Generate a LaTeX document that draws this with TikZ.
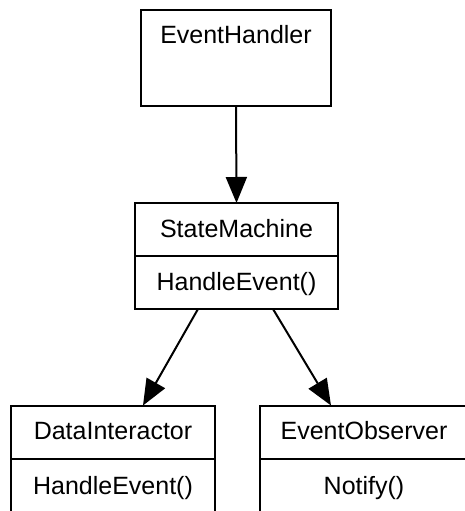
\documentclass[tikz,border=0pt]{standalone}
\usepackage{fontspec}
\setmainfont{Liberation Sans}
\usetikzlibrary{arrows.meta}

\tikzset{
  box/.style={draw=black, line width=2pt, fill=white, inner sep=0pt, outer sep=0pt},
  part/.style={box, text height=19pt, text depth=4pt, minimum height=53pt,
    font=\fontsize{25}{30}\selectfont},
  lower/.style={part, anchor=north, minimum height=56pt},
  title/.style={anchor=base, font=\fontsize{25}{30}\selectfont},
  link/.style={line width=2pt, -{Triangle[length=26pt, width=21pt]}}
}

\begin{document}
\begin{tikzpicture}[x=1pt, y=-1pt]
  \fill[white] (0,0) rectangle (465,511);
  \useasboundingbox (0,0) rectangle (465,511);
  \clip (0,0) rectangle (465,511);

  % handler class, name at the top of a tall box
  \node[box, minimum width=190pt, minimum height=96pt,
        label={[title, yshift=-34pt]north:EventHandler}] (eh) at (236,58) {};

  % state machine class: name and operation compartments
  \node[part, minimum width=203pt] (sm) at (236.5,229.5) {StateMachine};
  \node[part, anchor=north, minimum width=203pt] (smm) at (sm.south) {HandleEvent()};

  % data interactor class
  \node[part, minimum width=204pt] (di) at (113,432) {DataInteractor};
  \node[lower, minimum width=204pt] (dim) at (di.south) {HandleEvent()};

  % event observer class
  \node[part, minimum width=208pt] (eo) at (364,432) {EventObserver};
  \node[lower, minimum width=208pt] (eom) at (eo.south) {Notify()};

  % associations
  \draw[link] (eh.south) -- (sm.north);
  \draw[link] ([xshift=-38.5pt]smm.south) -- ([xshift=30pt]di.north);
  \draw[link] ([xshift=36.5pt]smm.south) -- ([xshift=-33pt]eo.north);
\end{tikzpicture}
\end{document}
